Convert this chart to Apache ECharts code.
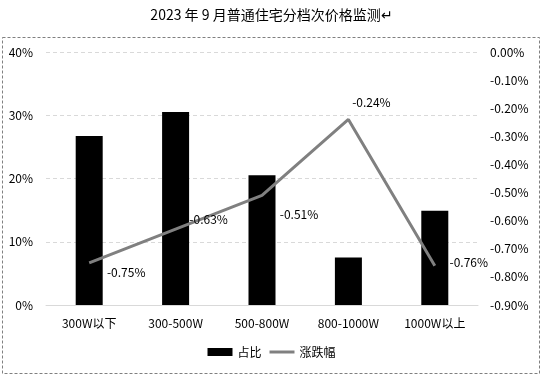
<!DOCTYPE html>
<html><head><meta charset="utf-8">
<script src="https://cdn.jsdelivr.net/npm/echarts@6/dist/echarts.min.js"></script>
<style>html,body{margin:0;padding:0;background:#fff}#c{width:543px;height:376px}</style>
</head><body><div id="c"></div>
<script>
const categories = ['300W以下', '300-500W', '500-800W', '800-1000W', '1000W以上'];
const shareValues = [26.7, 30.5, 20.5, 7.5, 14.9];
const changeValues = [-0.75, -0.63, -0.51, -0.24, -0.76];
const leftTicks = {min: 0, max: 40, interval: 10};
const rightTicks = {min: -0.9, max: 0, interval: 0.1};

const font = '"Noto Sans CJK SC", "Noto Sans", sans-serif';
const labelShift = [[37, 10], [33, -10], [37, 19], [23, -17], [34, -3]];
const chart = echarts.init(document.getElementById('c'));
chart.setOption({
  animation: false,
  title: {text: '2023 年 9 月普通住宅分档次价格监测↵', left: 'center', top: 3,
    textStyle: {fontFamily: font, fontSize: 14, fontWeight: 'normal', color: '#000'}},
  graphic: [{type: 'rect', shape: {x: 2.5, y: 37.5, width: 537, height: 336},
    style: {fill: 'none', stroke: '#808080', lineWidth: 1, lineDash: [3, 2]}}],
  legend: {bottom: 13, left: 'center', itemGap: 8, itemWidth: 25, itemHeight: 8,
    textStyle: {fontFamily: font, fontSize: 12, color: '#000'},
    data: [{name: '占比', icon: 'rect'},
           {name: '涨跌幅', icon: 'path://M0,0L25,0L25,3L0,3Z', itemStyle: {color: '#808080'}}]},
  grid: {left: 46, right: 65, top: 52, bottom: 71},
  xAxis: {type: 'category', data: categories,
    axisLine: {lineStyle: {color: '#d9d9d9'}}, axisTick: {show: false},
    axisLabel: {fontFamily: font, fontSize: 12, color: '#000', margin: 12}},
  yAxis: [
    {type: 'value', min: leftTicks.min, max: leftTicks.max, interval: leftTicks.interval,
      axisLabel: {formatter: '{value}%', fontFamily: font, fontSize: 12, color: '#000', margin: 13},
      splitLine: {lineStyle: {color: '#d9d9d9', type: [4, 3]}}},
    {type: 'value', min: rightTicks.min, max: rightTicks.max, interval: rightTicks.interval,
      axisLabel: {formatter: v => v.toFixed(2) + '%', fontFamily: font, fontSize: 12, color: '#000', margin: 12},
      splitLine: {show: false}}
  ],
  series: [
    {name: '涨跌幅', type: 'line', yAxisIndex: 1, z: 3, symbol: 'circle', symbolSize: 0.1, showSymbol: true,
      lineStyle: {color: '#808080', width: 3}, itemStyle: {color: '#808080'},
      data: changeValues,
      label: {show: true, position: 'inside', formatter: p => p.value.toFixed(2) + '%', fontFamily: font, fontSize: 12, color: '#000'},
      labelLayout: p => ({dx: labelShift[p.dataIndex][0], dy: labelShift[p.dataIndex][1], hideOverlap: false})},
    {name: '占比', type: 'bar', z: 2, data: shareValues, barWidth: 27, itemStyle: {color: '#000'}}
  ]
});
</script></body></html>
